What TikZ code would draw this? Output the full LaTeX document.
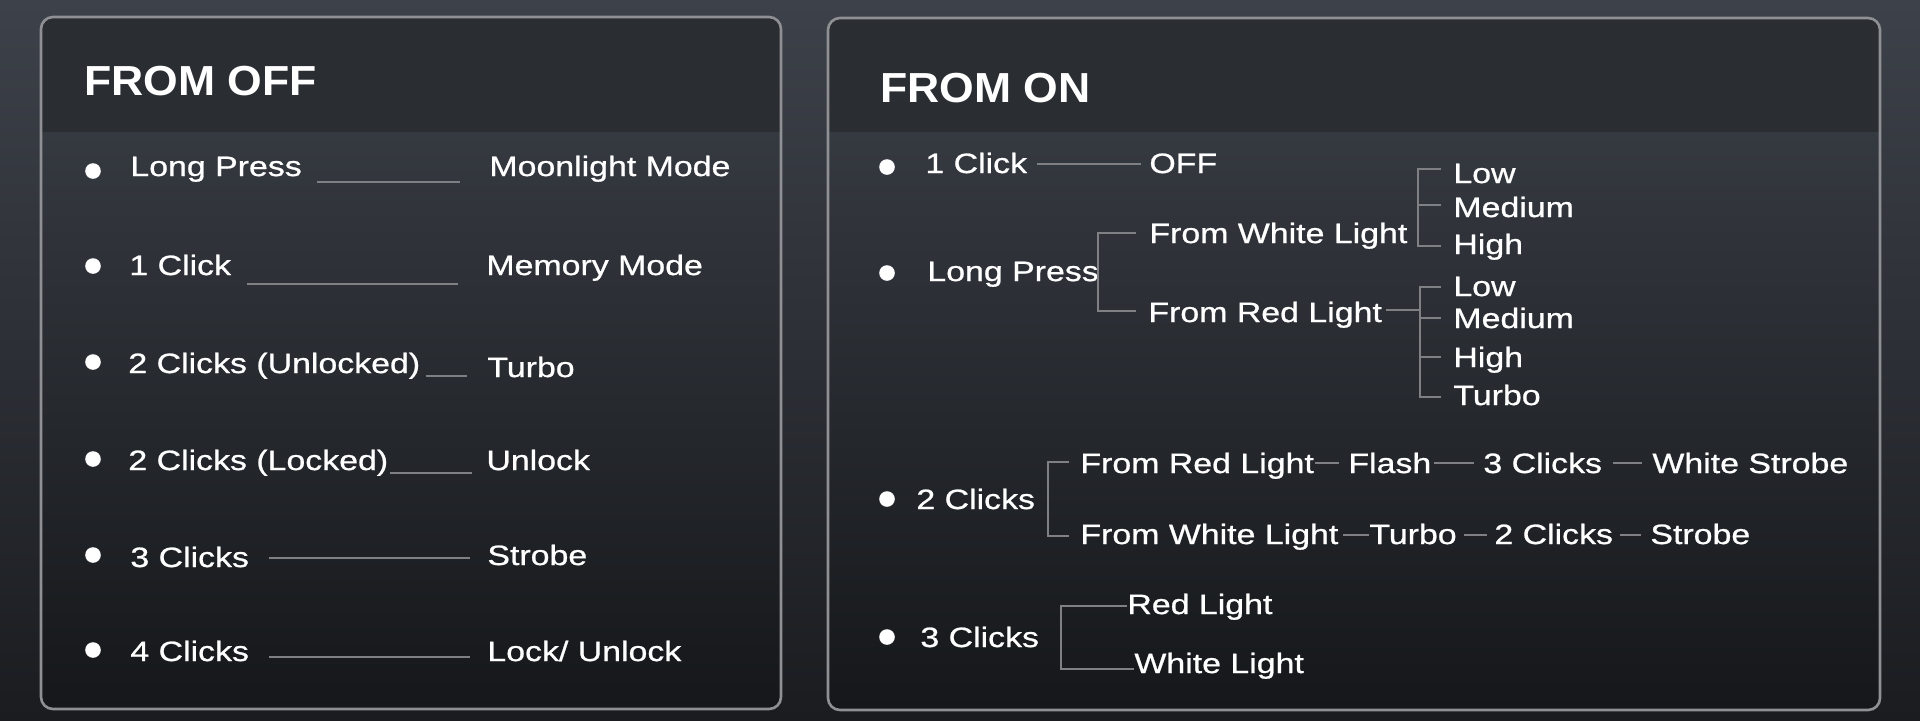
\documentclass[tikz,border=0pt]{standalone}
\usepackage{fontspec}
\setmainfont{Liberation Sans}[FakeStretch=1.21, FakeBold=0.8]
\newfontfamily\hdrfont{Liberation Sans}[FakeStretch=1.06]
\definecolor{bgtop}{HTML}{3D4149}
\definecolor{bgbot}{HTML}{1A1C20}
\definecolor{bandc}{HTML}{2A2D32}
\definecolor{bodytop}{HTML}{353940}
\definecolor{bodybot}{HTML}{15171A}
\definecolor{bordc}{HTML}{8E9094}
\definecolor{linegray}{HTML}{7E8084}
\begin{document}
\begin{tikzpicture}[x=0.5pt,y=-0.5pt,
  txt/.style={anchor=base west, inner sep=0pt, text=white, font=\fontsize{14}{16}\selectfont},
  hdr/.style={anchor=base west, inner sep=0pt, text=white, font=\hdrfont\bfseries\fontsize{21}{24}\selectfont},
  conn/.style={draw=linegray, line width=1pt},
  dot/.style={circle, fill=white, inner sep=0pt, minimum size=7.8pt},
  panelborder/.style={draw=bordc, line width=1.3pt, rounded corners=6pt}]
\useasboundingbox (0,0) rectangle (1920,720);
\shade[top color=bgtop, bottom color=bgbot] (0,0) rectangle (1920,720);

% ---------- left panel ----------
\begin{scope}
  \clip[rounded corners=6pt] (41,17) rectangle (781,709);
  \fill[bandc] (41,17) rectangle (781,132);
  \shade[top color=bodytop, bottom color=bodybot] (41,132) rectangle (781,709);
\end{scope}
\draw[panelborder] (41,17) rectangle (781,709);
\node[hdr] (hoff) at (84,95) {FROM OFF};

\node[dot] (lb1) at (93,171) {};
\node[txt] (la1) at (130,176) {Long Press};
\node[txt] (lr1) at (489,176) {Moonlight Mode};
\coordinate (lc1a) at (317,182); \coordinate (lc1b) at (460,182);
\draw[conn] (lc1a) -- (lc1b);

\node[dot] (lb2) at (93,266) {};
\node[txt] (la2) at (129,275) {1 Click};
\node[txt] (lr2) at (486,275) {Memory Mode};
\coordinate (lc2a) at (247,284); \coordinate (lc2b) at (458,284);
\draw[conn] (lc2a) -- (lc2b);

\node[dot] (lb3) at (93,362) {};
\node[txt] (la3) at (128,373) {2 Clicks (Unlocked)};
\node[txt] (lr3) at (487,377) {Turbo};
\coordinate (lc3a) at (426,376); \coordinate (lc3b) at (467,376);
\draw[conn] (lc3a) -- (lc3b);

\node[dot] (lb4) at (93,459) {};
\node[txt] (la4) at (128,470) {2 Clicks (Locked)};
\node[txt] (lr4) at (486,470) {Unlock};
\coordinate (lc4a) at (390,473); \coordinate (lc4b) at (472,473);
\draw[conn] (lc4a) -- (lc4b);

\node[dot] (lb5) at (93,555) {};
\node[txt] (la5) at (130,567) {3 Clicks};
\node[txt] (lr5) at (487,565) {Strobe};
\coordinate (lc5a) at (269,558); \coordinate (lc5b) at (470,558);
\draw[conn] (lc5a) -- (lc5b);

\node[dot] (lb6) at (93,650) {};
\node[txt] (la6) at (130,661) {4 Clicks};
\node[txt] (lr6) at (487,661) {Lock/ Unlock};
\coordinate (lc6a) at (269,657); \coordinate (lc6b) at (470,657);
\draw[conn] (lc6a) -- (lc6b);

% ---------- right panel ----------
\begin{scope}
  \clip[rounded corners=6pt] (828,18) rectangle (1880,710);
  \fill[bandc] (828,18) rectangle (1880,132);
  \shade[top color=bodytop, bottom color=bodybot] (828,132) rectangle (1880,710);
\end{scope}
\draw[panelborder] (828,18) rectangle (1880,710);
\node[hdr] (hon) at (880,102) {FROM ON};

% 1 Click
\node[dot] (rb1) at (887,167) {};
\node[txt] (r1) at (925,173) {1 Click};
\node[txt] (r1off) at (1149,173) {OFF};
\coordinate (r1ca) at (1037,164); \coordinate (r1cb) at (1141,164);
\draw[conn] (r1ca) -- (r1cb);

% Long Press
\node[dot] (rb2) at (887,273) {};
\node[txt] (r2) at (927,281) {Long Press};
\node[txt] (r2w) at (1149,243) {From White Light};
\node[txt] (r2r) at (1148,322) {From Red Light};
\coordinate (r2t) at (1136,233); \coordinate (r2b) at (1136,311);
\draw[conn] (r2t) -- (1098,233) -- (1098,311) -- (r2b);

\node[txt] (w1) at (1453,183) {Low};
\node[txt] (w2) at (1453,217) {Medium};
\node[txt] (w3) at (1453,254) {High};
\coordinate (wt) at (1441,169); \coordinate (wm) at (1441,205); \coordinate (wb) at (1441,246);
\draw[conn] (wt) -- (1418,169) -- (1418,246) -- (wb);
\draw[conn] (1418,205) -- (wm);

\node[txt] (q1) at (1453,296) {Low};
\node[txt] (q2) at (1453,328) {Medium};
\node[txt] (q3) at (1453,367) {High};
\node[txt] (q4) at (1453,405) {Turbo};
\coordinate (qt) at (1441,287); \coordinate (qm1) at (1441,318);
\coordinate (qm2) at (1441,357); \coordinate (qb) at (1441,397);
\draw[conn] (qt) -- (1420,287) -- (1420,397) -- (qb);
\draw[conn] (1420,318) -- (qm1);
\draw[conn] (1420,357) -- (qm2);
\coordinate (r2rc) at (1386,310);
\draw[conn] (r2rc) -- (1420,310);

% 2 Clicks
\node[dot] (rb3) at (887,499) {};
\node[txt] (r3) at (916,509) {2 Clicks};
\coordinate (r3t) at (1069,462); \coordinate (r3b) at (1069,536);
\draw[conn] (r3t) -- (1048,462) -- (1048,536) -- (r3b);

\node[txt] (a1) at (1080,473) {From Red Light};
\node[txt] (a2) at (1348,473) {Flash};
\node[txt] (a3) at (1483,473) {3 Clicks};
\node[txt] (a4) at (1652,473) {White Strobe};
\coordinate (a1c) at (1315,463); \coordinate (a2c) at (1339,463);
\coordinate (a3c) at (1434,463); \coordinate (a4c) at (1474,463);
\coordinate (a5c) at (1613,463); \coordinate (a6c) at (1642,463);
\draw[conn] (a1c) -- (a2c);
\draw[conn] (a3c) -- (a4c);
\draw[conn] (a5c) -- (a6c);

\node[txt] (b1) at (1080,544) {From White Light};
\node[txt] (b2) at (1369,544) {Turbo};
\node[txt] (b3) at (1494,544) {2 Clicks};
\node[txt] (b4) at (1650,544) {Strobe};
\coordinate (b1c) at (1343,535); \coordinate (b2c) at (1369,535);
\coordinate (b3c) at (1464,535); \coordinate (b4c) at (1487,535);
\coordinate (b5c) at (1620,535); \coordinate (b6c) at (1641,535);
\draw[conn] (b1c) -- (b2c);
\draw[conn] (b3c) -- (b4c);
\draw[conn] (b5c) -- (b6c);

% 3 Clicks
\node[dot] (rb4) at (887,637) {};
\node[txt] (r4) at (920,647) {3 Clicks};
\node[txt] (r4r) at (1127,614) {Red Light};
\node[txt] (r4w) at (1134,673) {White Light};
\coordinate (r4t) at (1127,606); \coordinate (r4b) at (1134,669);
\draw[conn] (r4t) -- (1061,606) -- (1061,669) -- (r4b);
\end{tikzpicture}
\end{document}
